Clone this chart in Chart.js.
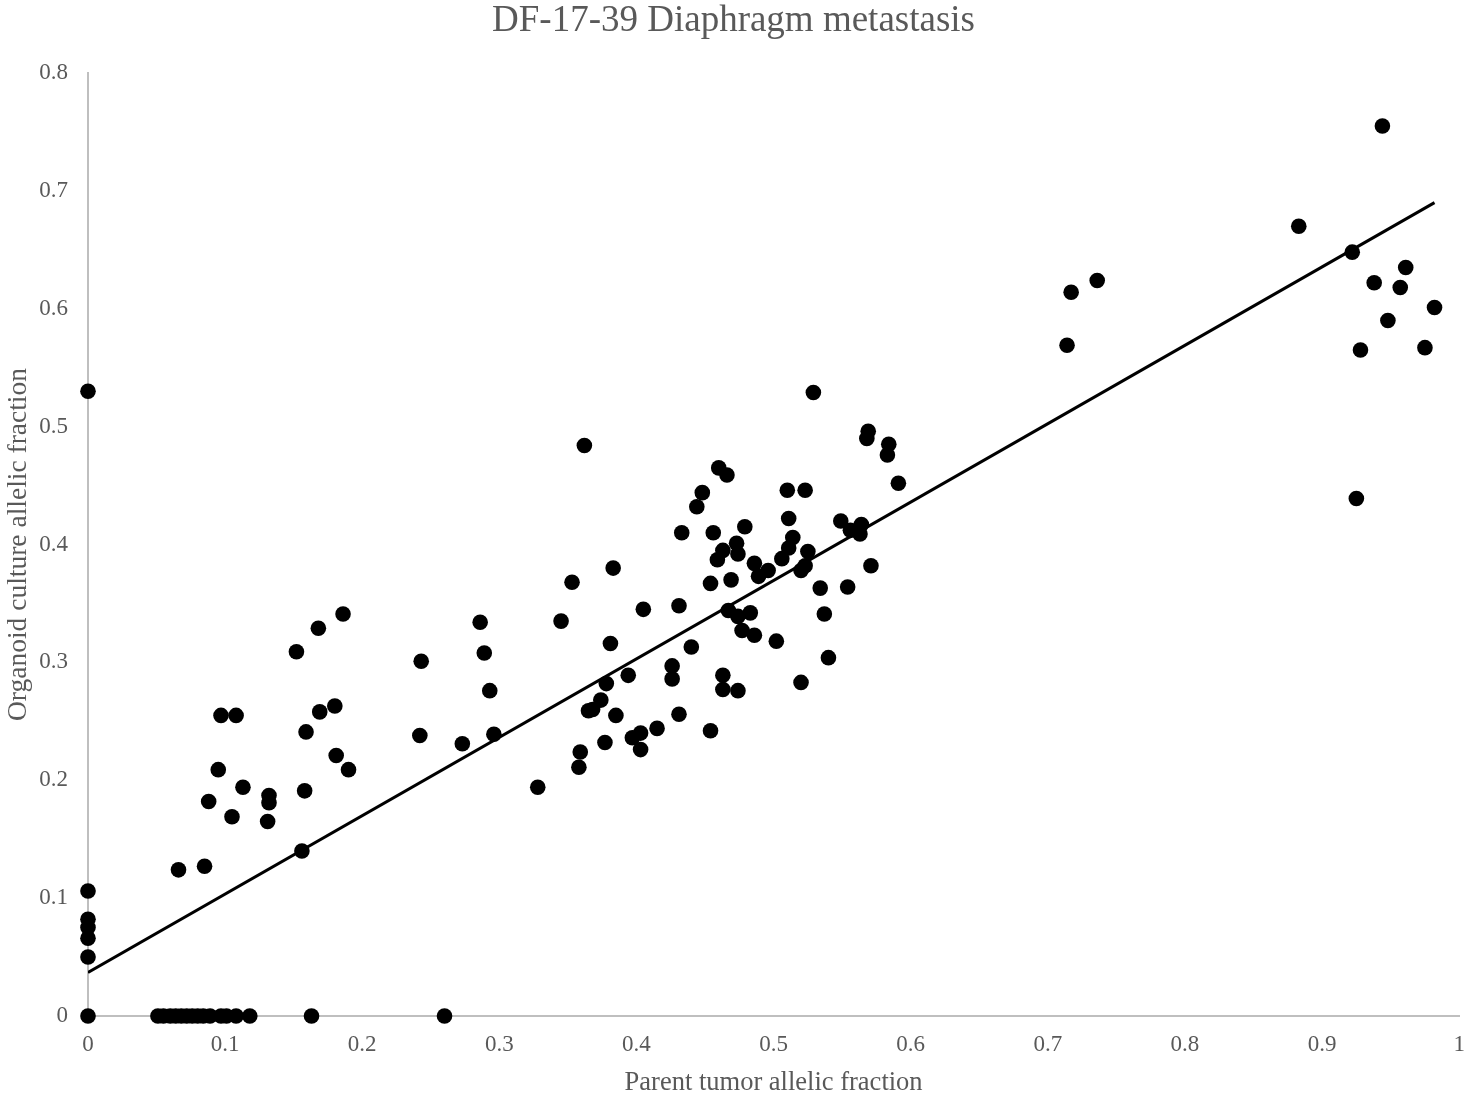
<!DOCTYPE html>
<html>
<head>
<meta charset="utf-8">
<title>DF-17-39 Diaphragm metastasis</title>
<script src="https://cdn.jsdelivr.net/npm/chart.js@4.4.1/dist/chart.umd.min.js"></script>
<style>
    html, body { margin: 0; padding: 0; background: #ffffff; }
    #wrap { width: 1467px; height: 1094px; position: relative; }
</style>
</head>
<body>
<div id="wrap"><canvas id="myChart"></canvas></div>
<script>
// parent tumor allelic fraction (x) and organoid culture allelic fraction (y)
const parentAF =
[
    0, 0, 0, 0, 0, 0, 0,
    0.051, 0.055, 0.060, 0.064, 0.068, 0.072, 0.076, 0.080, 0.084, 0.089, 0.097, 0.101, 0.108, 0.118, 0.163, 0.260,
    0.097, 0.108, 0.169, 0.180, 0.159, 0.095, 0.181, 0.190, 0.113, 0.088, 0.132, 0.132, 0.105, 0.131, 0.158, 0.156,
    0.066, 0.085, 0.152, 0.168, 0.186,
    0.243, 0.242, 0.273, 0.286, 0.289, 0.293, 0.296, 0.328, 0.345, 0.353, 0.362, 0.359, 0.358,
    0.529, 0.460, 0.466, 0.448, 0.444, 0.510, 0.523, 0.569, 0.568, 0.584, 0.583, 0.591, 0.433, 0.456, 0.479,
    0.511, 0.514, 0.511, 0.506, 0.525, 0.523, 0.520, 0.549, 0.564, 0.556, 0.563, 0.571, 0.463, 0.459, 0.473,
    0.474, 0.486, 0.496, 0.489, 0.469, 0.454, 0.383, 0.534, 0.554, 0.537, 0.540, 0.520, 0.502, 0.483, 0.467,
    0.474, 0.477, 0.486, 0.431, 0.405, 0.381, 0.440, 0.426, 0.426, 0.463, 0.463, 0.474, 0.394, 0.378, 0.374,
    0.368, 0.365, 0.385, 0.431, 0.415, 0.454, 0.397, 0.403, 0.403, 0.377,
    0.944, 0.883, 0.922, 0.961, 0.938, 0.957, 0.982, 0.948, 0.928, 0.975, 0.925, 0.736, 0.717, 0.714
];

const organoidAF =
[
    0.530, 0.106, 0.082, 0.075, 0.066, 0.050, 0,
    0, 0, 0, 0, 0, 0, 0, 0, 0, 0, 0, 0, 0, 0, 0, 0,
    0.255, 0.255, 0.258, 0.263, 0.241, 0.209, 0.221, 0.209, 0.194, 0.182, 0.187, 0.181, 0.169, 0.165, 0.191, 0.140,
    0.124, 0.127, 0.309, 0.329, 0.341,
    0.301, 0.238, 0.231, 0.334, 0.308, 0.276, 0.239, 0.194, 0.335, 0.368, 0.484, 0.224, 0.211,
    0.529, 0.465, 0.459, 0.444, 0.432, 0.446, 0.446, 0.496, 0.490, 0.485, 0.476, 0.452, 0.410, 0.410, 0.415,
    0.422, 0.406, 0.397, 0.388, 0.394, 0.382, 0.378, 0.420, 0.417, 0.412, 0.409, 0.382, 0.395, 0.387, 0.401,
    0.392, 0.384, 0.378, 0.373, 0.370, 0.367, 0.380, 0.363, 0.364, 0.341, 0.304, 0.283, 0.318, 0.342, 0.344,
    0.339, 0.327, 0.323, 0.348, 0.345, 0.316, 0.313, 0.297, 0.286, 0.289, 0.277, 0.276, 0.289, 0.282, 0.268,
    0.260, 0.259, 0.255, 0.256, 0.244, 0.242, 0.236, 0.240, 0.226, 0.232,
    0.755, 0.670, 0.648, 0.635, 0.622, 0.618, 0.601, 0.590, 0.565, 0.567, 0.439, 0.624, 0.614, 0.569
];

// linear trendline end points
const trendX = [0, 0.982];
const trendY = [0.037, 0.690];

const xTickLabels = ['0', '0.1', '0.2', '0.3', '0.4', '0.5', '0.6', '0.7', '0.8', '0.9', '1'];
const yTickLabels = ['0', '0.1', '0.2', '0.3', '0.4', '0.5', '0.6', '0.7', '0.8'];

const textGray = '#595959';
const axisGray = '#bfbfbf';
const serif = "'Liberation Serif', 'Times New Roman', serif";

let points = [];
for (let i = 0; i < parentAF.length; i++)
{
    points[i] = { x: parentAF[i], y: organoidAF[i] };
}

let trend = [];
for (let i = 0; i < trendX.length; i++)
{
    trend[i] = { x: trendX[i], y: trendY[i] };
}

const ctx = document.getElementById('myChart');

new Chart(ctx,
{
    type: 'scatter',
    data:
    {
        datasets:
        [
            {
                type: 'line',
                label: 'Linear trend',
                data: trend,
                borderColor: '#000000',
                borderWidth: 3,
                pointRadius: 0,
                fill: false
            },
            {
                label: 'Allelic fraction',
                data: points,
                backgroundColor: '#000000',
                borderColor: '#000000',
                borderWidth: 0,
                pointRadius: 7.8,
                pointHoverRadius: 7.8,
                clip: false
            }
        ]
    },
    options:
    {
        responsive: true,
        maintainAspectRatio: false,
        animation: false,
        layout: { padding: { left: 0, right: 0, top: 0, bottom: 0 } },
        plugins:
        {
            legend: { display: false },
            tooltip: { enabled: false },
            title:
            {
                display: true,
                text: 'DF-17-39 Diaphragm metastasis',
                color: textGray,
                font: { family: serif, size: 37, weight: 'normal', lineHeight: 1 },
                padding: { top: 3, bottom: 33 }
            }
        },
        scales:
        {
            x:
            {
                type: 'linear',
                min: 0,
                max: 1,
                grid: { display: false, drawTicks: false },
                border: { display: true, color: axisGray, width: 2 },
                ticks:
                {
                    stepSize: 0.1,
                    padding: 15,
                    color: textGray,
                    font: { family: serif, size: 23 },
                    maxRotation: 0,
                    callback: (v, i) => xTickLabels[i]
                },
                title:
                {
                    display: true,
                    text: 'Parent tumor allelic fraction',
                    color: textGray,
                    font: { family: serif, size: 26.5, lineHeight: 0.8 },
                    padding: { top: 0, bottom: 0 }
                },
                afterFit: (s) =>
                {
                    s.height = 78;
                    s.paddingLeft = 0;
                    s.paddingRight = 0;
                }
            },
            y:
            {
                type: 'linear',
                min: 0,
                max: 0.8,
                grid: { display: false, drawTicks: false },
                border: { display: true, color: axisGray, width: 2 },
                ticks:
                {
                    stepSize: 0.1,
                    padding: 20,
                    color: textGray,
                    font: { family: serif, size: 23 },
                    callback: (v, i) => yTickLabels[i]
                },
                title:
                {
                    display: true,
                    text: 'Organoid culture allelic fraction',
                    color: textGray,
                    font: { family: serif, size: 27.5, lineHeight: 1.2 },
                    padding: { top: 2, bottom: 0 }
                },
                afterFit: (s) =>
                {
                    s.width = 88;
                }
            }
        }
    }
});
</script>
</body>
</html>
